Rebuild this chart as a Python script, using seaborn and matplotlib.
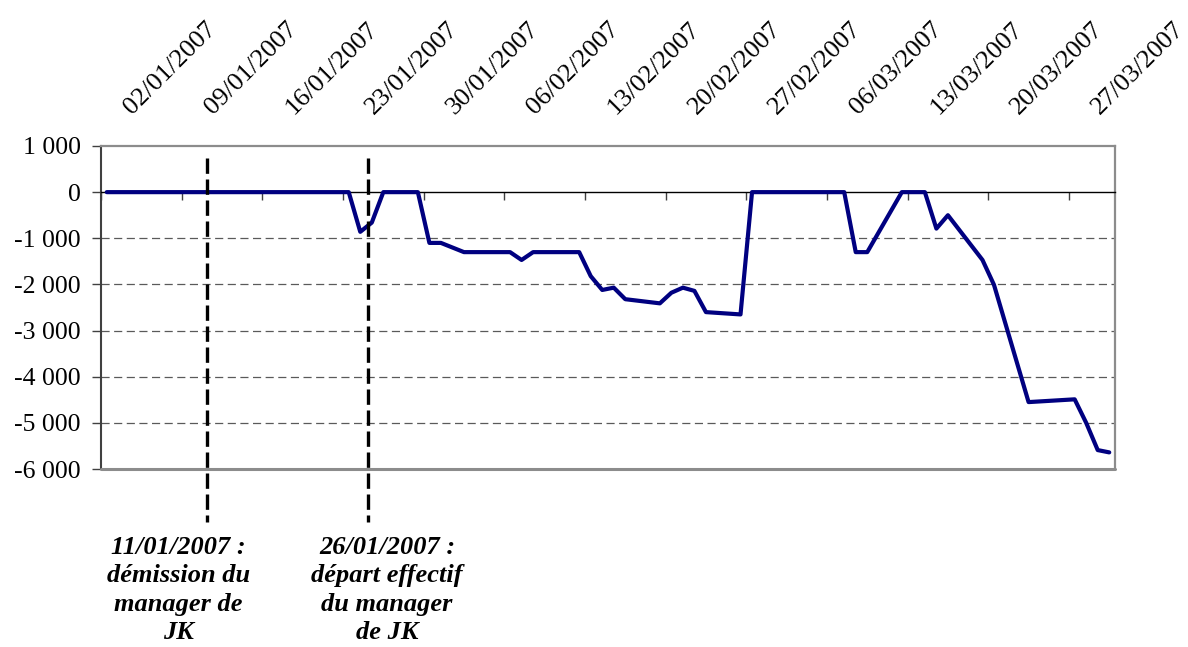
import matplotlib
matplotlib.use("Agg")
import matplotlib.pyplot as plt
import matplotlib.transforms as mtransforms
import seaborn as sns
import pandas as pd

# ---------------- data ----------------
DATES = [
    "02/01/2007", "03/01/2007", "04/01/2007", "05/01/2007",
    "08/01/2007", "09/01/2007", "10/01/2007", "11/01/2007", "12/01/2007",
    "15/01/2007", "16/01/2007", "17/01/2007", "18/01/2007", "19/01/2007",
    "22/01/2007", "23/01/2007", "24/01/2007", "25/01/2007", "26/01/2007",
    "29/01/2007", "30/01/2007", "31/01/2007", "02/02/2007",
    "05/02/2007", "06/02/2007", "07/02/2007", "08/02/2007", "09/02/2007",
    "12/02/2007", "13/02/2007", "14/02/2007", "15/02/2007", "16/02/2007",
    "19/02/2007", "20/02/2007", "21/02/2007", "22/02/2007", "23/02/2007",
    "26/02/2007", "27/02/2007", "28/02/2007", "01/03/2007", "02/03/2007",
    "05/03/2007", "06/03/2007", "07/03/2007", "08/03/2007", "09/03/2007",
    "12/03/2007", "13/03/2007", "14/03/2007", "15/03/2007", "16/03/2007",
    "19/03/2007", "20/03/2007", "23/03/2007",
    "27/03/2007", "28/03/2007", "29/03/2007", "30/03/2007",
]
VALUES = [
    0, 0, 0, 0,
    0, 0, 0, 0, 0,
    0, 0, 0, 0, 0,
    0, 0, -860, -660, 0,
    0, -1100, -1100, -1300,
    -1300, -1300, -1470, -1300, -1300,
    -1300, -1820, -2120, -2070, -2320,
    -2410, -2180, -2070, -2140, -2600,
    -2650, 0, 0, 0, 0,
    0, 0, 0, -1300, -1300,
    0, 0, 0, -790, -500,
    -1470, -2010, -4550,
    -4490, -5000, -5590, -5640,
]
TICK_DATES = ["02/01/2007", "09/01/2007", "16/01/2007", "23/01/2007",
              "30/01/2007", "06/02/2007", "13/02/2007", "20/02/2007",
              "27/02/2007", "06/03/2007", "13/03/2007", "20/03/2007",
              "27/03/2007"]
Y_TICKS = [1000, 0, -1000, -2000, -3000, -4000, -5000, -6000]
GRID_VALUES = [-1000, -2000, -3000, -4000, -5000]
EVENT_LABELS = ["11/01/2007 :\ndémission du\nmanager de\nJK",
                "26/01/2007 :\ndépart effectif\ndu manager\nde JK"]
EVENT_LINE_X = ["2007-01-11 04:00", "2007-01-25 04:20"]

# ---------------- style ----------------
sns.set_theme(style="white")
plt.rcParams["font.family"] = ["Liberation Serif", "DejaVu Serif"]

df = pd.DataFrame({"date": pd.to_datetime(DATES, format="%d/%m/%Y"),
                   "value": VALUES})
df["x"] = df["date"] + pd.Timedelta(hours=12)   # centre of each day slot

W, H = 1188, 647
fig = plt.figure(figsize=(W / 100, H / 100), dpi=100)
fig.patch.set_facecolor("white")
L, R, T, B = 101, 1115, 146, 469
ax = fig.add_axes([L / W, 1 - B / H, (R - L) / W, (B - T) / H])
ax.set_facecolor("white")

# dashed gridlines
for g in GRID_VALUES:
    ax.axhline(g, color="#5a5a5a", lw=0.9, dashes=(6.5, 3.6), zorder=1)

sns.lineplot(data=df, x="x", y="value", ax=ax, color="#000080",
             linewidth=3.0, sort=False, zorder=4)

ax.set_xlim(pd.Timestamp("2007-01-02"), pd.Timestamp("2007-03-31"))
ax.set_ylim(-6000, 1000)
ax.set_xlabel("")
ax.set_ylabel("")

tick_ts = pd.to_datetime(TICK_DATES, format="%d/%m/%Y")

# x axis crossing at 0
ax.spines["bottom"].set_position(("data", 0))
ax.spines["bottom"].set_color("black")
ax.spines["bottom"].set_linewidth(1.0)
ax.spines["bottom"].set_zorder(3)
ax.set_xticks(tick_ts)
ax.tick_params(axis="x", direction="out", length=6, width=1.0,
               color="#404040", labelbottom=False, bottom=True, top=False)

# plot border
for s in ["top", "right"]:
    ax.spines[s].set_color("#8c8c8c")
    ax.spines[s].set_linewidth(1.6)
ax.axhline(-6000, color="#8c8c8c", lw=2.2, clip_on=False, zorder=3)
ax.spines["left"].set_color("#404040")
ax.spines["left"].set_linewidth(1.5)

# y axis
ax.set_yticks(Y_TICKS)
ax.set_yticklabels([f"{v:,.0f}".replace(",", " ") for v in Y_TICKS])
ax.tick_params(axis="y", direction="out", length=6.5, width=1.0,
               color="#404040", labelsize=18.5, pad=8, left=True,
               labelcolor="black")

# top date labels (placed above the plot, rotated 45 degrees)
label_tr = mtransforms.offset_copy(ax.get_xaxis_transform(), fig=fig,
                                   x=31, y=31, units="dots")
for d in tick_ts:
    ax.text(d, 1.0, d.strftime("%d/%m/%Y"), transform=label_tr,
            rotation=45, rotation_mode="anchor", ha="left", va="baseline",
            fontsize=19, color="black", clip_on=False)

# event lines and annotations
for xpos in EVENT_LINE_X:
    ax.plot([pd.Timestamp(xpos)] * 2, [0.963, -0.164],
            transform=ax.get_xaxis_transform(), clip_on=False,
            color="black", lw=2.4, dashes=(4.6, 1.7), zorder=5)

TEXT_X = [178.5, 387]
for tx, lab in zip(TEXT_X, EVENT_LABELS):
    fig.text(tx / W, 1 - 536 / H, lab, ha="center", va="top",
             fontsize=19, fontweight="bold", fontstyle="italic",
             linespacing=1.3, color="black")

fig.savefig("out.png", dpi=100, facecolor="white")
